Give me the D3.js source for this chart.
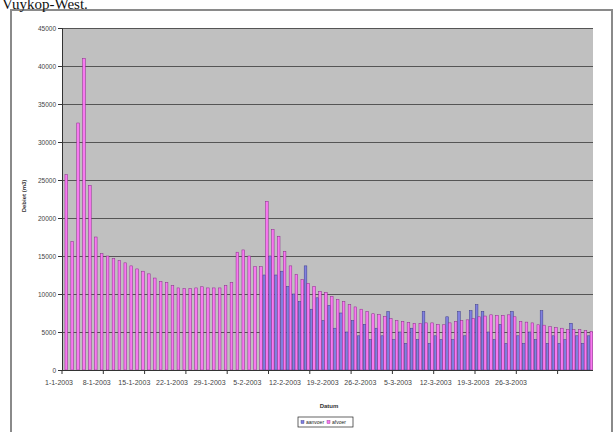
<!DOCTYPE html>
<html>
<head>
<meta charset="utf-8">
<script src="https://cdn.jsdelivr.net/npm/d3@7"></script>
<style>
  body { margin: 0; background: #fff; }
  svg { display: block; }
</style>
</head>
<body>
<svg width="615" height="432"></svg>
<script>
// daily categories, 1-1-2003 .. 31-3-2003
var days = d3.timeDays(new Date(2003, 0, 1), new Date(2003, 3, 1));

var weekLabels = ["1-1-2003", "8-1-2003", "15-1-2003", "22-1-2003", "29-1-2003", "5-2-2003",
  "12-2-2003", "19-2-2003", "26-2-2003", "5-3-2003", "12-3-2003", "19-3-2003", "26-3-2003"];

var yTicks = [0, 5000, 10000, 15000, 20000, 25000, 30000, 35000, 40000, 45000];

var seriesNames = ["aanvoer", "afvoer"];

// blue series (first in legend), no values in january
var aanvoer = [null, null, null, null, null, null, null, null, null, null,
  null, null, null, null, null, null, null, null, null, null,
  null, null, null, null, null, null, null, null, null, null,
  null, null, null, null, 12500, 15000, 12500, 13000, 11000, 10000,
  9000, 13700, 8000, 9500, 6500, 8500, 5500, 7500, 5000, 6500,
  4500, 6000, 4000, 5500, 4500, 7700, 4000, 5000, 3500, 5500,
  4000, 7700, 3500, 4500, 4000, 7000, 4000, 7700, 4500, 7800,
  8600, 7700, 5000, 4000, 6000, 3500, 7700, 4500, 3500, 5000,
  4000, 7800, 3500, 4500, 3500, 4000, 6150, 4500, 3500, 4500];

// pink series
var afvoer = [25700, 16900, 32500, 41000, 24300, 17500, 15300, 15000, 14650, 14400,
  14100, 13700, 13300, 13000, 12650, 12100, 11650, 11500, 11100, 10800,
  10700, 10700, 10800, 10950, 10800, 10800, 10800, 11100, 11500, 15500,
  15800, 15000, 13600, 13600, 22200, 18500, 17600, 15600, 13700, 12600,
  11900, 11400, 11000, 10350, 10200, 9700, 9300, 9000, 8600, 8300,
  8000, 7700, 7400, 7300, 7050, 6750, 6500, 6400, 6250, 6150,
  6150, 6200, 6200, 6000, 5950, 6200, 6400, 6500, 6600, 6800,
  7000, 7100, 7260, 7200, 7200, 7260, 7000, 6400, 6300, 6200,
  5950, 5900, 5700, 5600, 5500, 5300, 5300, 5300, 5200, 5050];

var colors = ["#8080e0", "#f878f0"];
var strokes = ["#3a3a8a", "#8a2a8a"];

var svg = d3.select('svg');

// chart frame
svg.append('rect')
  .attr('x', 11).attr('y', 10)
  .attr('width', 601).attr('height', 440)
  .attr('fill', '#fff')
  .attr('stroke', '#8a8a8a')
  .attr('stroke-width', 2);

// title, partly cut off at the top as in the scan
svg.append('text')
  .attr('x', 2).attr('y', 9)
  .style('font-family', '"Liberation Serif", "Times New Roman", serif')
  .style('font-size', '15px')
  .attr('fill', '#111')
  .text('Vuykop-West.');

var x = d3.scaleBand()
  .domain(d3.range(days.length))
  .range([62, 593])
  .paddingInner(0.1)
  .paddingOuter(0.05);

var xs = d3.scaleBand()
  .domain([0, 1])
  .range([0, x.bandwidth()]);

var y = d3.scaleLinear()
  .domain([0, 45000])
  .range([370, 28]);

// plot area
svg.append('rect')
  .attr('x', 62).attr('y', y(45000))
  .attr('width', 593 - 62).attr('height', y(0) - y(45000))
  .attr('fill', '#c0c0c0');

// gridlines
svg.append('g').selectAll('line')
  .data(yTicks.filter(function(d){ return d > 0 }))
  .enter().append('line')
    .attr('x1', 62).attr('x2', 593)
    .attr('y1', function(d){ return y(d) + 0.5 })
    .attr('y2', function(d){ return y(d) + 0.5 })
    .attr('stroke', '#555')
    .attr('stroke-width', 1.2);

// bars
var series = [aanvoer, afvoer];
series.forEach(function(vals, s){
  svg.append('g').selectAll('rect')
    .data(vals.map(function(v, i){ return {i: i, v: v} }).filter(function(d){ return d.v != null }))
    .enter().append('rect')
      .attr('x', function(d){ return x(d.i) + xs(s) })
      .attr('width', xs.bandwidth())
      .attr('y', function(d){ return y(d.v) })
      .attr('height', function(d){ return y(0) - y(d.v) })
      .attr('fill', colors[s])
      .attr('stroke', strokes[s])
      .attr('stroke-width', 0.5);
});

// y axis
var yAxis = svg.append('g')
  .attr('transform', 'translate(62,0)')
  .call(d3.axisLeft(y).tickValues(yTicks).tickSize(4).tickPadding(2).tickFormat(d3.format('d')));
yAxis.selectAll('text')
  .style('font-family', 'Arial, "Liberation Sans", sans-serif')
  .style('font-size', '6.5px')
  .attr('fill', '#444');
yAxis.selectAll('line, path').attr('stroke', '#333');

// x axis line and weekly ticks at category boundaries
var half = x.step() * x.paddingInner() / 2;
svg.append('line')
  .attr('x1', 62).attr('x2', 593)
  .attr('y1', y(0) + 0.5).attr('y2', y(0) + 0.5)
  .attr('stroke', '#333');
svg.append('g').selectAll('line')
  .data(d3.range(0, days.length, 7))
  .enter().append('line')
    .attr('x1', function(i){ return x(i) - half })
    .attr('x2', function(i){ return x(i) - half })
    .attr('y1', y(0)).attr('y2', y(0) + 4)
    .attr('stroke', '#333');

// week labels, spread as in the picture
var xl = d3.scalePoint().domain(weekLabels).range([59, 511]);
svg.append('g').selectAll('text')
  .data(weekLabels)
  .enter().append('text')
    .attr('x', function(d){ return xl(d) })
    .attr('y', 385)
    .attr('text-anchor', 'middle')
    .style('font-family', 'Arial, "Liberation Sans", sans-serif')
    .style('font-size', '7px')
    .attr('fill', '#444')
    .text(function(d){ return d });

// axis titles
svg.append('text')
  .attr('x', 329).attr('y', 408)
  .attr('text-anchor', 'middle')
  .style('font-family', 'Arial, "Liberation Sans", sans-serif')
  .style('font-size', '6px').style('font-weight', 'bold')
  .attr('fill', '#333')
  .text('Datum');

svg.append('text')
  .attr('transform', 'translate(26,196) rotate(-90)')
  .attr('text-anchor', 'middle')
  .style('font-family', 'Arial, "Liberation Sans", sans-serif')
  .style('font-size', '6px').style('font-weight', 'bold')
  .attr('fill', '#333')
  .text('Debiet (m3)');

// legend
var lg = svg.append('g').attr('transform', 'translate(298,417)');
lg.append('rect')
  .attr('width', 55).attr('height', 10)
  .attr('fill', '#fff').attr('stroke', '#222').attr('stroke-width', 0.7);
var item = lg.selectAll('g.item')
  .data(seriesNames)
  .enter().append('g')
    .attr('transform', function(d, i){ return 'translate(' + (3 + i * 26) + ',0)' });
item.append('rect')
  .attr('y', 3.5).attr('width', 3).attr('height', 3)
  .attr('fill', function(d, i){ return colors[i] })
  .attr('stroke', function(d, i){ return strokes[i] }).attr('stroke-width', 0.4);
item.append('text')
  .attr('x', 5).attr('y', 7)
  .style('font-family', 'Arial, "Liberation Sans", sans-serif')
  .style('font-size', '5px')
  .attr('fill', '#222')
  .text(function(d){ return d });
</script>
</body>
</html>
